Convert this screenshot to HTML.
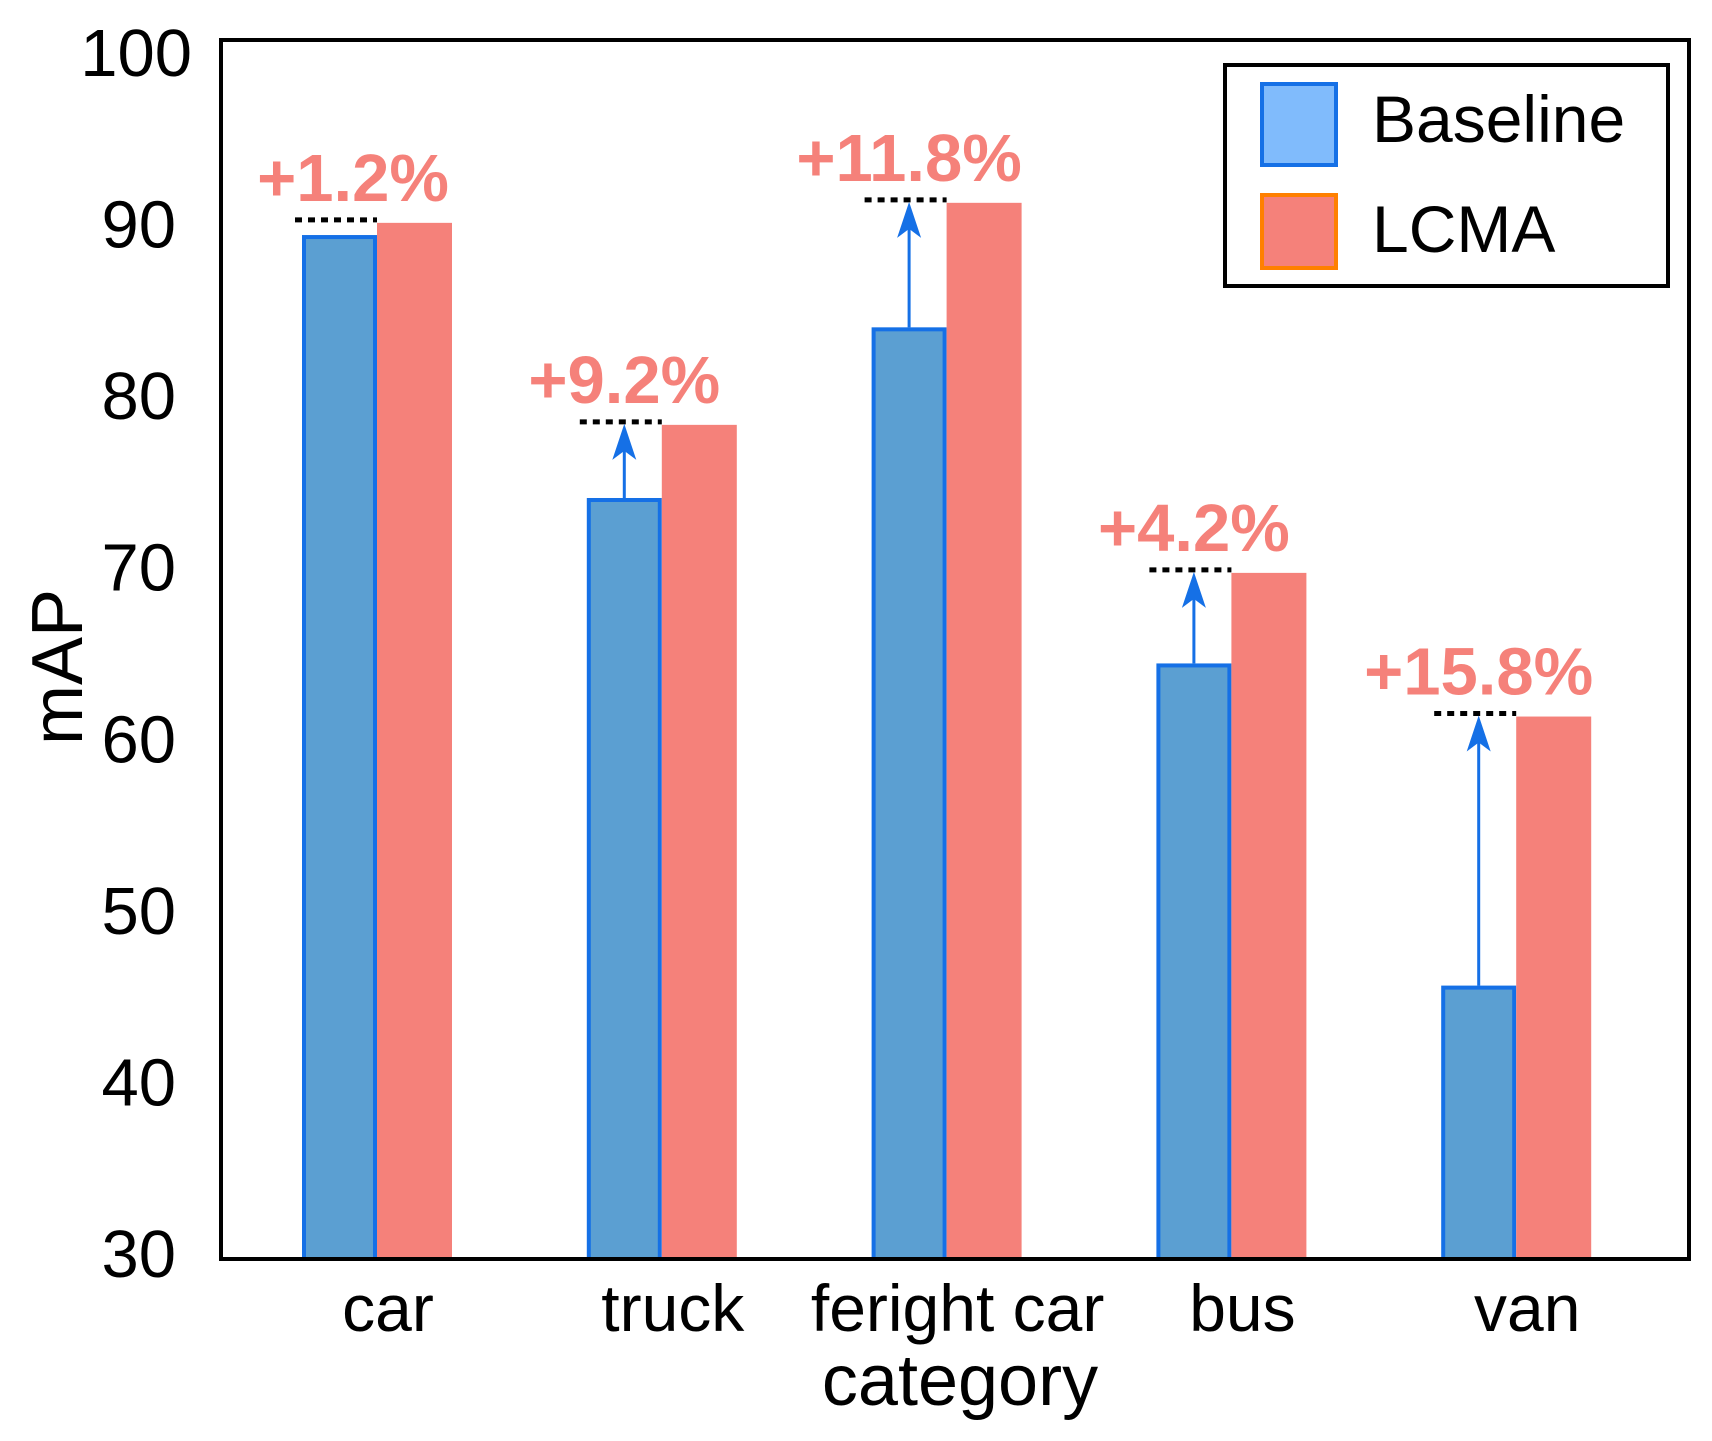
<!DOCTYPE html>
<html><head><meta charset="utf-8"><style>
html,body{margin:0;padding:0;background:#fff;}
svg{display:block;font-family:"Liberation Sans",Arial,sans-serif;}
</style></head><body>
<svg id="chart" width="1712" height="1441" viewBox="0 0 1712 1441">
<g id="plot"></g>
</svg>
<script>
const categories = ["car", "truck", "feright car", "bus", "van"];
const baselineValues = [88.8, 73.7, 83.5, 64.2, 45.7];
const lcmaValues = [89.5, 77.9, 90.65, 69.4, 61.15];
const gainLabels = ["+1.2%", "+9.2%", "+11.8%", "+4.2%", "+15.8%"];
const yTicks = [30, 40, 50, 60, 70, 80, 90, 100];

const NS = "http://www.w3.org/2000/svg";
const L = 221, R = 1689, T = 40, B = 1259;
const yMin = 30, yMax = 100;
const groupStart = 377, groupStep = 284.8, barW = 75;
const y = v => B - (v - yMin) / (yMax - yMin) * (B - T);
const xc = i => groupStart + i * groupStep;
const g = document.getElementById("plot");
function mk(tag, attrs, parent) {
  const e = document.createElementNS(NS, tag);
  for (const k in attrs) e.setAttribute(k, attrs[k]);
  (parent || g).appendChild(e);
  return e;
}

categories.forEach((c, i) => {
  const cx = xc(i);
  const yb = y(baselineValues[i]), yr = y(lcmaValues[i]);
  const b = mk("rect", {x: cx - barW + 2, y: yb + 2, width: barW - 4, height: B - yb - 2, fill: "#5b9fd2", stroke: "#1570e6", "stroke-width": 4});
  
  
  const r = mk("rect", {x: cx, y: yr, width: barW, height: B - yr, fill: "#f5817a"});
  
  
  const dy = yr - 3;
  const d = mk("line", {x1: cx - 82, x2: cx, y1: dy, y2: dy, stroke: "#000", "stroke-width": 5, "stroke-dasharray": "7 6"});
  
  
  const ax = cx - barW / 2;
  if (yb - dy > 25) {
    const a = mk("line", {x1: ax, x2: ax, y1: yb, y2: dy + 20, stroke: "#1570e6", "stroke-width": 3});
    
    
    const h = mk("polygon", {points: `${ax},${dy+2} ${ax-12},${dy+38} ${ax},${dy+29} ${ax+12},${dy+38}`, fill: "#1570e6"});
    
    
  }
  const lx = i === 0 ? cx - 24 : cx - barW / 2;
  const t = mk("text", {x: lx, y: dy - 19, "text-anchor": "middle", "font-size": 67, "font-weight": "bold", fill: "#f5817a"});
  t.textContent = gainLabels[i];
  
  
  const xl = mk("text", {x: cx + 11, y: 1331, "text-anchor": "middle", "font-size": 66, fill: "#000"});
  xl.textContent = c;
  
  
});

yTicks.forEach((v, i) => {
  const cy = 1253 - (v - 30) / 70 * (1253 - 52);
  const t = mk("text", {x: v === 100 ? 192 : 176, y: cy + 24, "text-anchor": "end", "font-size": 67, fill: "#000"});
  t.textContent = v;
  
  
});

const f = mk("rect", {x: L, y: T, width: R - L, height: B - T, fill: "none", stroke: "#000", "stroke-width": 4});



const xt = mk("text", {x: 960, y: 1405, "text-anchor": "middle", "font-size": 72, fill: "#000"});
xt.textContent = "category";


const yt = mk("text", {x: 0, y: 0, "text-anchor": "middle", "font-size": 72, fill: "#000", transform: "translate(82,667) rotate(-90)"});
yt.textContent = "mAP";



const lg = mk("g", {});


mk("rect", {x: 1225, y: 65, width: 443, height: 221, fill: "#fff", stroke: "#000", "stroke-width": 4}, lg);
const p1 = mk("rect", {x: 1262, y: 84, width: 74, height: 81, fill: "#80bbfc", stroke: "#1570e6", "stroke-width": 4}, lg);


const p2 = mk("rect", {x: 1262, y: 195, width: 74, height: 73, fill: "#f5817a", stroke: "#ff8000", "stroke-width": 4}, lg);


const t1 = mk("text", {x: 1372, y: 142, "font-size": 66, fill: "#000"}, lg);
t1.textContent = "Baseline";


const t2 = mk("text", {x: 1372, y: 252, "font-size": 66, fill: "#000"}, lg);
t2.textContent = "LCMA";


</script>
</body></html>
